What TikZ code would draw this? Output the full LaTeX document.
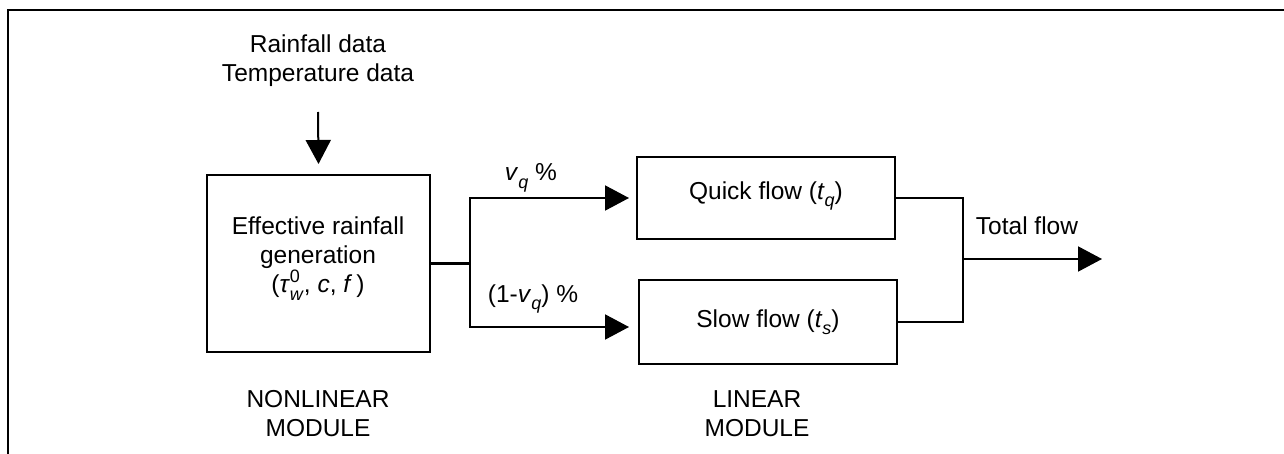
\documentclass[tikz,border=0pt]{standalone}
\usepackage{fontspec}
\setmainfont{Liberation Sans}
\usetikzlibrary{arrows.meta}
\newcommand\mysb[1]{\raisebox{-0.3em}{\fontsize{18}{18}\selectfont\textit{#1}}}
\newcommand\mysbsp[2]{\makebox[0pt][l]{\raisebox{0.42em}{\fontsize{18}{18}\selectfont #1}}\raisebox{-0.32em}{\fontsize{18}{18}\selectfont\textit{#2}}}
\begin{document}
\begin{tikzpicture}[x=1pt,y=-1pt,
  lw/.style={line width=2pt},
  boxst/.style={draw,lw,rectangle,inner sep=0pt,align=center},
  lbl/.style={inner sep=0pt,align=center,font=\fontsize{24.5}{29}\selectfont},
  arr/.style={lw,-{Triangle[length=24pt,width=25pt]}}]
\useasboundingbox (0,0) rectangle (1284,454);
\fill[white] (0,0) rectangle (1284,454);
% frame
\draw[lw] (1284,10) -- (8,10) -- (8,454);
% input
\node[lbl] (inp) at (318,61) {Rainfall data\\Temperature data};
\coordinate (inA) at (318,112);
% boxes
\node[boxst,minimum width=223pt,minimum height=177pt] (erg) at (318.5,263.5) {};
\node[lbl] (ergt) at (318,259) {Effective rainfall\\generation\\(\textit{τ}\mysbsp{0}{w}, \textit{c}, \textit{f}\,)};
\node[boxst,minimum width=258pt,minimum height=82pt] (quick) at (766,198) {};
\node[lbl] (quickt) at (766,196) {Quick flow (\textit{t}\mysb{q})};
\node[boxst,minimum width=258pt,minimum height=84pt] (slow) at (768,322) {};
\node[lbl] (slowt) at (768,322) {Slow flow (\textit{t}\mysb{s})};
% labels
\node[lbl] (vq) at (531,178) {\textit{v}\mysb{q} \%};
\node[lbl] (vq1) at (533,299) {(1-\textit{v}\mysb{q}) \%};
\node[lbl] (tot) at (1027,226) {Total flow};
\node[lbl] (nl) at (318,414) {NONLINEAR\\MODULE};
\node[lbl] (ln) at (757,414) {LINEAR\\MODULE};
% connectors
\coordinate (split) at (470,263.5);
\coordinate (merge) at (963,259);
\coordinate (outc) at (1102,259);
\draw[arr] (inA) -- ([yshift=10pt]erg.north);
\draw[arr] (erg.east) -- (split) |- ([xshift=-7pt]quick.west);
\draw[arr] (split) |- ([xshift=-9pt,yshift=-5pt]slow.west);
\draw[lw] (quick.east) -| (merge) |- (slow.east);
\draw[arr] (merge) -- (outc);
\end{tikzpicture}
\end{document}
